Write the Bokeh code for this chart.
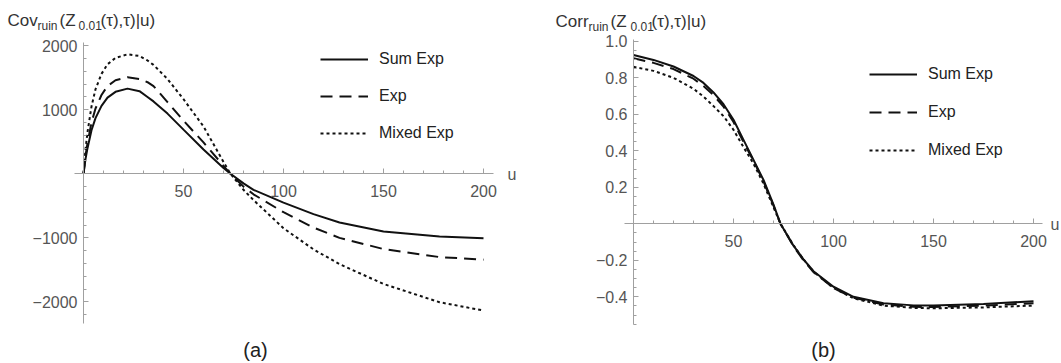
from bokeh.plotting import figure
from bokeh.layouts import row
from bokeh.models import Range1d, FixedTicker, Legend, LegendItem, Label, LinearAxis
from bokeh.embed import file_html
from bokeh.resources import INLINE

# ---------------- data ----------------
u_cov = [0, 1, 2, 4, 6, 9, 12, 16, 22, 28, 32, 35, 42, 50, 60, 70, 73.5, 80, 85, 100, 115, 128, 150, 178, 200]
cov_sum = [0, 230, 400, 680, 870, 1060, 1190, 1280, 1330, 1290, 1200, 1130, 940, 690, 380, 90, 0,
           -150, -250, -450, -630, -760, -900, -980, -1005]
cov_exp = [0, 280, 480, 800, 1020, 1230, 1370, 1460, 1508, 1480, 1430, 1370, 1120, 830, 490, 125, 0,
           -200, -320, -600, -840, -1000, -1175, -1300, -1340]
cov_mix = [0, 380, 650, 1050, 1320, 1560, 1710, 1810, 1865, 1840, 1770, 1700, 1480, 1165, 740, 185, 0,
           -250, -410, -850, -1180, -1410, -1720, -2005, -2135]

u_corr = [0, 10, 20, 30, 35, 40, 45, 50, 55, 60, 65, 70, 73.5, 80, 85, 90, 100, 110, 125, 140, 150, 175, 200]
corr_sum = [0.925, 0.898, 0.862, 0.81, 0.772, 0.72, 0.655, 0.57, 0.46, 0.35, 0.24, 0.105, 0.0,
            -0.12, -0.195, -0.26, -0.345, -0.4, -0.435, -0.447, -0.448, -0.44, -0.424]
corr_exp = [0.907, 0.882, 0.848, 0.795, 0.755, 0.705, 0.642, 0.558, 0.448, 0.345, 0.232, 0.1, 0.0,
            -0.123, -0.2, -0.265, -0.352, -0.405, -0.442, -0.455, -0.456, -0.448, -0.435]
corr_mix = [0.86, 0.838, 0.80, 0.74, 0.697, 0.645, 0.59, 0.515, 0.42, 0.33, 0.22, 0.09, 0.0,
            -0.118, -0.195, -0.262, -0.352, -0.408, -0.448, -0.461, -0.463, -0.458, -0.448]

series_names = ["Sum Exp", "Exp", "Mixed Exp"]
cov_ticks = [-2000, -1000, 1000, 2000]
corr_ticks = [-0.4, -0.2, 0.2, 0.4, 0.6, 0.8, 1.0]
u_ticks = [50, 100, 150, 200]

FONT = "Liberation Sans"
TICK_COLOR = "#555555"
AXIS_COLOR = "#a0a0a0"
TEXT_COLOR = "#333333"
DASHES = ["solid", "12 7", "3 3"]
H = 363
DY = 6  # observed downward shift of alphabetic-baseline labels


def fmt(v):
    if abs(v - round(v)) < 1e-9 and abs(v) >= 10:
        s = str(int(round(v)))
    else:
        s = "%.1f" % v
    return s.replace("-", "\u2212")


def style_axis(ax):
    ax.fixed_location = 0
    ax.axis_line_color = AXIS_COLOR
    ax.major_tick_line_color = AXIS_COLOR
    ax.minor_tick_line_color = AXIS_COLOR
    ax.major_tick_in = 5
    ax.major_tick_out = 0
    ax.minor_tick_in = 3
    ax.minor_tick_out = 0
    ax.major_label_text_font = FONT
    ax.major_label_text_font_size = "16px"
    ax.major_label_text_color = TICK_COLOR


def make_fig(width, xr, yr, xbounds, ybounds, yticks, yminor):
    p = figure(width=width, height=H, x_range=Range1d(*xr), y_range=Range1d(*yr),
               output_backend="svg", toolbar_location=None,
               x_axis_location=None, y_axis_location=None,
               min_border=0, min_border_left=0, min_border_right=0,
               min_border_top=0, min_border_bottom=0)
    p.grid.visible = False
    p.outline_line_color = None
    p.background_fill_color = "white"
    p.border_fill_color = "white"
    xa = LinearAxis(ticker=FixedTicker(ticks=u_ticks, minor_ticks=list(range(0, 210, 10))),
                    bounds=xbounds)
    ya = LinearAxis(ticker=FixedTicker(ticks=yticks, minor_ticks=yminor), bounds=ybounds)
    for ax in (xa, ya):
        style_axis(ax)
    xa.major_label_standoff = 11
    ya.major_label_standoff = 6
    xa.major_label_overrides = {t: fmt(t) for t in u_ticks}
    ya.major_label_overrides = {t: fmt(t) for t in yticks}
    p.add_layout(xa, "below")
    p.add_layout(ya, "left")
    return p


def add_lines(p, xs, ys_list, legend_loc, spacing):
    items = []
    for name, ys, dash in zip(series_names, ys_list, DASHES):
        r = p.line(xs, ys, line_color="#111111", line_width=2, line_dash=dash)
        items.append(LegendItem(label=name, renderers=[r]))
    leg = Legend(items=items, location=legend_loc, orientation="vertical",
                 glyph_width=48, glyph_height=20, label_height=20, spacing=spacing,
                 label_standoff=11, padding=0, margin=0,
                 border_line_color=None, background_fill_alpha=0,
                 label_text_font=FONT, label_text_font_size="16px",
                 label_text_color="#222222")
    p.add_layout(leg)


def put(p, conv, img_x, img_y, text, size, align="left", color=TEXT_COLOR):
    x, y = conv(img_x, img_y - DY)
    p.add_layout(Label(x=x, y=y, text=text, text_font=FONT, text_font_size=size,
                       text_color=color, text_align=align, text_baseline="alphabetic"))


def title(p, conv, x_parts, base, head):
    sub = base + 5
    put(p, conv, x_parts[0], base, head, "17px")
    put(p, conv, x_parts[1], sub, "ruin", "12px")
    put(p, conv, x_parts[2], base, "(Z", "17px")
    put(p, conv, x_parts[3], sub, "0.01", "12px")
    put(p, conv, x_parts[4], base, "(\u03c4),\u03c4)|u)", "17px")


# ---------------- left chart (a) ----------------
KY1 = 0.06405  # px per unit
def conv1(ix, iy):
    return (ix - 83) / 2.0, (173.3 - iy) / KY1


p1 = make_fig(528, (-41.5, 222.5), (-(H - 173.3) / KY1, 173.3 / KY1),
              (-4.5, 205), (-2340, 2047), cov_ticks, list(range(-2200, 2001, 200)))
add_lines(p1, u_cov, [cov_sum, cov_exp, cov_mix], (320, H - 143), 17)

title(p1, conv1, [7, 37, 59, 78, 100], 26, "Cov")
put(p1, conv1, 507, 180, "u", "16px", color=TICK_COLOR)
put(p1, conv1, 255, 355, "(a)", "20px", align="center", color="#222222")

# ---------------- right chart (b) ----------------
KY2 = 182.5
X0 = 528
def conv2(ix, iy):
    return (ix - 633) / 2.0, (223.3 - iy) / KY2


p2 = make_fig(533, (-52.5, 214.0), (-(H - 223.3) / KY2, 223.3 / KY2),
              (-4.5, 204.5), (-0.553, 1.009), corr_ticks,
              [round(-0.55 + 0.05 * i, 2) for i in range(32)])
add_lines(p2, u_corr, [corr_sum, corr_exp, corr_mix], (869 - X0, H - 160), 18)

title(p2, conv2, [555, 588, 610, 630, 651], 27, "Corr")
put(p2, conv2, 1050, 230, "u", "16px", color=TICK_COLOR)
put(p2, conv2, 823, 355, "(b)", "20px", align="center", color="#222222")

layout = row(p1, p2, spacing=0)
open("out.html", "w").write(file_html(layout, INLINE))
